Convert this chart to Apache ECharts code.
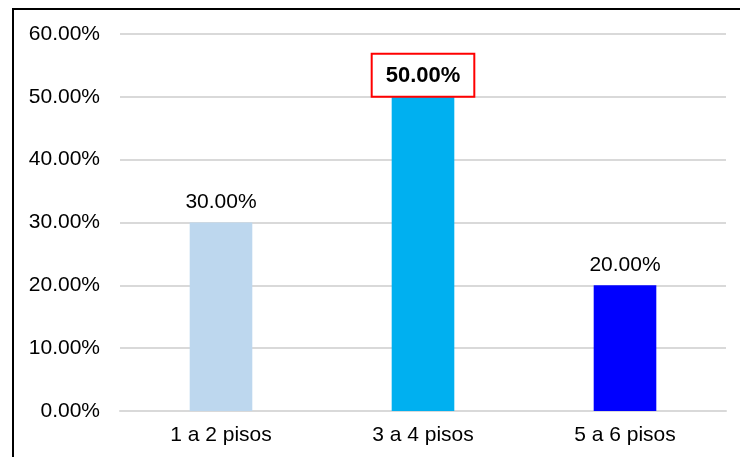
<!DOCTYPE html>
<html><head><meta charset="utf-8">
<script src="https://cdn.jsdelivr.net/npm/echarts@6/dist/echarts.min.js"></script>
<style>html,body{margin:0;padding:0;background:#fff}#c{width:740px;height:457px}</style>
</head><body><div id="c"></div>
<script>
const categories = ['1 a 2 pisos', '3 a 4 pisos', '5 a 6 pisos'];
const values = [30, 50, 20];
const barColors = ['#BDD7EE', '#00B0F0', '#0000FF'];
const highlightIndex = 1;

const chart = echarts.init(document.getElementById('c'));
const font = '"Liberation Sans", Arial, sans-serif';
chart.setOption({
  animation: false,
  grid: { left: 120, right: 14, top: 34, bottom: 46, containLabel: false },
  graphic: [
    { type: 'line', shape: { x1: 12, y1: 9, x2: 740, y2: 9 }, style: { stroke: '#000', lineWidth: 2 } },
    { type: 'line', shape: { x1: 13, y1: 9, x2: 13, y2: 457 }, style: { stroke: '#000', lineWidth: 2 } }
  ],
  xAxis: {
    type: 'category', data: categories,
    axisLine: { lineStyle: { color: '#D9D9D9', width: 2 } },
    axisTick: { show: false },
    axisLabel: { color: '#000', fontFamily: font, fontSize: 21, margin: 14 }
  },
  yAxis: {
    type: 'value', min: 0, max: 60, interval: 10,
    axisLine: { show: false }, axisTick: { show: false },
    splitLine: { lineStyle: { color: '#D9D9D9', width: 2 } },
    axisLabel: { color: '#000', fontFamily: font, fontSize: 21, margin: 20,
      formatter: v => v.toFixed(2) + '%' }
  },
  series: [{
    type: 'bar', barWidth: '31%',
    data: values.map((v, i) => ({
      value: v,
      itemStyle: { color: barColors[i] },
      label: i === highlightIndex ? {
        show: true, position: 'top', distance: 1,
        fontWeight: 'bold', fontSize: 22, color: '#000', fontFamily: font,
        borderColor: '#FF0000', borderWidth: 2, backgroundColor: '#fff',
        padding: [10, 13, 9, 13]
      } : {
        show: true, position: 'top', distance: 10,
        fontSize: 21, color: '#000', fontFamily: font
      }
    })),
    label: { formatter: p => p.value.toFixed(2) + '%' }
  }]
});
</script></body></html>
